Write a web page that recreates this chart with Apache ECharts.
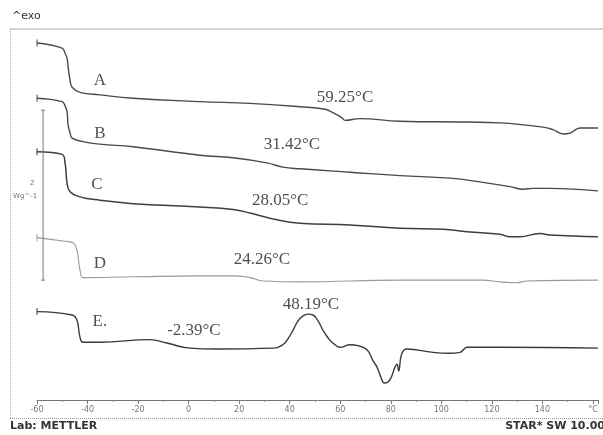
<!DOCTYPE html>
<html>
<head>
<meta charset="utf-8">
<script src="https://cdn.jsdelivr.net/npm/echarts@6/dist/echarts.min.js"></script>
<style>
html,body{margin:0;padding:0;background:#fff;}
#chart{width:603px;height:435px;}
</style>
</head>
<body>
<div id="chart"></div>
<script>
// Temperature (°C) vs heat flow (W/g, curves offset vertically)
const curveA = [[-60,4.20],[-50.1,4.14],[-48.9,4.08],[-48.1,4.02],[-47.7,3.92],[-46.9,3.76],[-46.1,3.68],[-43.0,3.62],[-35.1,3.59],[-22.0,3.55],[4.5,3.51],[24.3,3.49],[44.1,3.45],[54.0,3.42],[57.1,3.38],[60.7,3.32],[61.9,3.29],[67.8,3.31],[83.6,3.28],[110.2,3.27],[123.2,3.26],[140.2,3.21],[144.2,3.18],[148.2,3.13],[150.9,3.14],[154.9,3.20],[162,3.20]];
const curveB = [[-60,3.55],[-50.1,3.51],[-48.9,3.46],[-48.1,3.39],[-47.7,3.24],[-46.9,3.14],[-46.1,3.08],[-41.8,3.04],[-35.1,3.01],[-22.0,2.98],[4.5,2.88],[17.6,2.85],[31.0,2.79],[37.3,2.74],[44.1,2.72],[63.9,2.68],[83.6,2.64],[103.4,2.61],[116.5,2.56],[127.2,2.51],[132.3,2.48],[136.3,2.49],[143.0,2.49],[162,2.46]];
const curveC = [[-60,2.92],[-50.1,2.89],[-48.9,2.79],[-48.1,2.55],[-46.9,2.45],[-43.0,2.39],[-35.1,2.35],[-22.0,2.31],[4.5,2.27],[17.6,2.24],[24.3,2.20],[35.0,2.12],[44.1,2.08],[63.9,2.06],[83.6,2.02],[100.7,2.01],[110.2,1.98],[123.2,1.95],[127.2,1.92],[131.1,1.92],[139.0,1.96],[143.0,1.94],[162,1.92]];
const curveD = [[-60,1.91],[-49.7,1.87],[-45.8,1.85],[-44.2,1.76],[-43.0,1.53],[-41.8,1.44],[-22.0,1.45],[4.5,1.46],[17.6,1.46],[24.3,1.44],[29.4,1.40],[44.1,1.39],[83.6,1.41],[116.5,1.41],[123.2,1.39],[129.9,1.38],[133.9,1.40],[162,1.41]];
const curveE = [[-60,1.04],[-46.1,1.00],[-44.2,0.94],[-43.0,0.74],[-41.8,0.68],[-35.1,0.68],[-15.3,0.71],[-8.6,0.67],[0.5,0.61],[11.2,0.60],[33.8,0.61],[37.3,0.65],[39.3,0.72],[41.3,0.82],[43.3,0.93],[45.3,0.99],[47.2,1.01],[49.2,1.00],[51.2,0.93],[53.2,0.82],[55.2,0.73],[57.1,0.67],[59.9,0.62],[63.9,0.65],[67.0,0.64],[70.6,0.59],[73.0,0.46],[74.5,0.39],[76.9,0.21],[77.7,0.20],[79.7,0.24],[81.7,0.39],[82.5,0.42],[83.1,0.34],[84.4,0.55],[86.4,0.60],[96.7,0.56],[103.4,0.55],[107.4,0.56],[110.2,0.62],[123.2,0.62],[162,0.61]];
const scaleBar = [[-57.6,3.41],[-57.6,1.41]];
const curveLabels = [[-35.1,3.76,'A'],[-35.1,3.14,'B'],[-36.3,2.53,'C'],[-35.1,1.61,'D'],[-35.1,0.92,'E.']];
const tempLabels = [[61.9,3.56,'59.25°C'],[40.9,3.01,'31.42°C'],[36.2,2.35,'28.05°C'],[29.0,1.65,'24.26°C'],[2.1,0.82,'-2.39°C'],[48.4,1.12,'48.19°C']];
const xTickStep = 20;

function curve(name, pts, color, width) {
  const data = pts.map((p, i) => i === 0
    ? {value: p, symbol: 'rect', symbolSize: [1, 7], itemStyle: {color: color}}
    : {value: p});
  return {
    name: name, type: 'line', data: data, smooth: 0.45,
    symbol: 'none', showSymbol: true, silent: true, clip: true,
    lineStyle: {color: color, width: width}, itemStyle: {color: color}
  };
}

const chart = echarts.init(document.getElementById('chart'), null, {renderer: 'canvas'});
const serif = '"Liberation Serif","DejaVu Serif",serif';
const option = {
  animation: false,
  backgroundColor: '#ffffff',
  grid: {left: 37, right: 5, top: 26, bottom: 35},
  xAxis: {
    type: 'value', min: -60, max: 162, interval: xTickStep,
    axisLine: {show: true, onZero: false, lineStyle: {color: '#777', width: 1}},
    axisTick: {show: true, length: 4, lineStyle: {color: '#777'}},
    minorTick: {show: true, splitNumber: 2, length: 2, lineStyle: {color: '#888'}},
    splitLine: {show: false},
    axisLabel: {
      color: '#777', fontSize: 8, fontFamily: '"DejaVu Sans",sans-serif', margin: 6,
      formatter: v => v === 160 ? '°C' : (v % 20 === 0 ? String(v) : '')
    }
  },
  yAxis: {type: 'value', min: 0, max: 4.4, show: false},
  graphic: [
    {type: 'line', shape: {x1: 10, y1: 29, x2: 603, y2: 29}, style: {stroke: '#aaa', lineWidth: 1}},
    {type: 'line', shape: {x1: 10.5, y1: 29, x2: 10.5, y2: 418}, style: {stroke: '#aaa', lineWidth: 1, lineDash: [1, 1]}},
    {type: 'line', shape: {x1: 10, y1: 418.5, x2: 603, y2: 418.5}, style: {stroke: '#999', lineWidth: 1, lineDash: [1, 1]}},
    {type: 'text', left: 12, top: 11, style: {text: '^exo', fontSize: 11, fill: '#333', fontFamily: '"DejaVu Sans",sans-serif'}},
    {type: 'text', left: 10, top: 421, style: {text: 'Lab: METTLER', fontSize: 11, fontWeight: 'bold', fill: '#333', fontFamily: '"DejaVu Sans",sans-serif'}},
    {type: 'text', right: -2, top: 421, style: {text: 'STAR* SW 10.00', fontSize: 11, fontWeight: 'bold', fill: '#333', fontFamily: '"DejaVu Sans",sans-serif'}},
    {type: 'text', left: 30, top: 180, style: {text: '2', fontSize: 7, fill: '#777', fontFamily: '"DejaVu Sans",sans-serif'}},
    {type: 'text', left: 13, top: 193, style: {text: 'Wg^-1', fontSize: 7, fill: '#777', fontFamily: '"DejaVu Sans",sans-serif'}}
  ],
  series: [
    curve('A', curveA, '#4a4a4a', 1.4),
    curve('B', curveB, '#4a4a4a', 1.4),
    curve('C', curveC, '#3f3f3f', 1.5),
    curve('D', curveD, '#9a9a9a', 1.1),
    curve('E', curveE, '#3a3a3a', 1.4),
    {
      name: 'scale', type: 'line', data: scaleBar, symbol: 'rect', symbolSize: [4, 1],
      lineStyle: {color: '#777', width: 1}, itemStyle: {color: '#777'}, silent: true, clip: false
    },
    {
      name: 'curveLabels', type: 'scatter', symbolSize: 0, silent: true,
      data: curveLabels.map(d => ({value: [d[0], d[1]], name: d[2]})),
      label: {show: true, position: 'inside', formatter: p => p.name, fontFamily: serif, fontSize: 17, color: '#222'}
    },
    {
      name: 'tempLabels', type: 'scatter', symbolSize: 0, silent: true,
      data: tempLabels.map(d => ({value: [d[0], d[1]], name: d[2]})),
      label: {show: true, position: 'inside', formatter: p => p.name, fontFamily: serif, fontSize: 17, color: '#222'}
    }
  ]
};
chart.setOption(option);
</script>
</body>
</html>
